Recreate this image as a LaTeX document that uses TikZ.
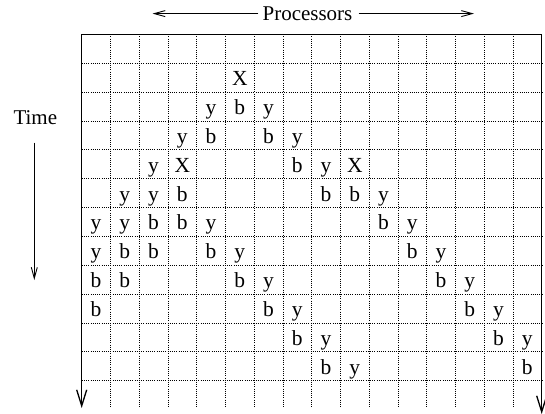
\documentclass[tikz,border=0pt]{standalone}
\usepackage{fontspec}
\setmainfont{Liberation Serif}
\usetikzlibrary{arrows.meta}
\begin{document}
\begin{tikzpicture}[x=1pt,y=-1pt,
  gridline/.style={line width=0.8pt,dash pattern=on 1pt off 1.2pt,black},
  frame/.style={line width=1.5pt,black},
  thinbarb/.style={line width=0.9pt,-{Straight Barb[length=11pt,width=6pt,line width=0.9pt]}},
  lbl/.style={font=\fontsize{21}{25}\selectfont,inner sep=0pt,anchor=base},
  cell/.style={font=\fontsize{21.5}{25}\selectfont,inner sep=0pt,anchor=base}]
\useasboundingbox (0,0) rectangle (545,414);
\def\cw{28.75}\def\rh{28.87}\def\gx{81.7}\def\gy{34.3}
% dotted grid
\foreach \i in {1,...,15}
  \draw[gridline] ({\gx+\i*\cw},\gy) -- ({\gx+\i*\cw},408);
\foreach \j in {1,...,12}
  \draw[gridline] (\gx,{\gy+\j*\rh}) -- (541.7,{\gy+\j*\rh});
% frame
\coordinate (bl) at (81.7,408);
\coordinate (tl) at (81.7,34.3);
\coordinate (tr) at (541.7,34.3);
\coordinate (br) at (541.7,414);
\draw[frame,{Straight Barb[length=16pt,width=10pt,line width=1.3pt]}-{Straight Barb[length=16pt,width=10pt,line width=1.3pt]}] (bl) -- (tl) -- (tr) -- (br);
% Processors
\node[lbl] (proc) at (307.5,20.7) {Processors};
\coordinate (pl) at (152.5,13.6);
\coordinate (pr) at (474,13.6);
\draw[thinbarb] ([xshift=-4pt]proc.west |- pl) -- (pl);
\draw[thinbarb] ([xshift=6pt]proc.east |- pr) -- (pr);
% Time
\node[lbl] (time) at (35.3,125) {Time};
\coordinate (ts) at (34.3,142.7);
\coordinate (te) at (34.3,280);
\draw[thinbarb] (ts) -- (te);
% cell letters
\foreach \c/\r/\t in {5/1/X,
  4/2/y,5/2/b,6/2/y,
  3/3/y,4/3/b,6/3/b,7/3/y,
  2/4/y,3/4/X,7/4/b,8/4/y,9/4/X,
  1/5/y,2/5/y,3/5/b,8/5/b,9/5/b,10/5/y,
  0/6/y,1/6/y,2/6/b,3/6/b,4/6/y,10/6/b,11/6/y,
  0/7/y,1/7/b,2/7/b,4/7/b,5/7/y,11/7/b,12/7/y,
  0/8/b,1/8/b,5/8/b,6/8/y,12/8/b,13/8/y,
  0/9/b,6/9/b,7/9/y,13/9/b,14/9/y,
  7/10/b,8/10/y,14/10/b,15/10/y,
  8/11/b,9/11/y,15/11/b}
  \node[cell] (n\c-\r) at ({\gx+(\c+0.5)*\cw},{\gy+(\r+1)*\rh-6.5}) {\t};
\end{tikzpicture}
\end{document}
